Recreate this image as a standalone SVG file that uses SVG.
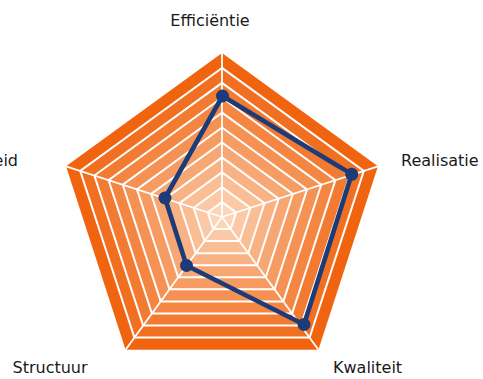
<svg xmlns="http://www.w3.org/2000/svg" width="483" height="379" viewBox="0 0 483 379">
<style>
.lbl{font-family:"DejaVu Sans","Liberation Sans",sans-serif;font-size:16px;fill:#1a1a1a}
.grid{fill:none;stroke:#ffffff;stroke-width:2}
.spoke{stroke:#ffffff;stroke-width:1.8}
.series{fill:none;stroke:#1c3b78;stroke-width:4.6;stroke-linejoin:round}
.pt{fill:#1c3b78}
</style>
<rect width="483" height="379" fill="#ffffff"/>
<g id="chart-bands">
<polygon fill="#F06410" points="222,53 377.97,166.32 318.40,349.68 125.60,349.68 66.03,166.32"/>
<polygon fill="#F16F21" points="222,67.91 363.80,170.93 309.63,337.62 134.37,337.62 80.20,170.93"/>
<polygon fill="#F27A31" points="222,82.82 349.62,175.54 300.87,325.56 143.13,325.56 94.38,175.54"/>
<polygon fill="#F48642" points="222,97.73 335.44,180.14 292.11,313.49 151.89,313.49 108.56,180.14"/>
<polygon fill="#F59152" points="222,112.64 321.26,184.75 283.34,301.43 160.66,301.43 122.74,184.75"/>
<polygon fill="#F69C63" points="222,127.55 307.08,189.36 274.58,289.37 169.42,289.37 136.92,189.36"/>
<polygon fill="#F7A774" points="222,142.45 292.90,193.96 265.82,277.31 178.18,277.31 151.10,193.96"/>
<polygon fill="#F8B284" points="222,157.36 278.72,198.57 257.05,265.25 186.95,265.25 165.28,198.57"/>
<polygon fill="#FABE95" points="222,172.27 264.54,203.18 248.29,253.19 195.71,253.19 179.46,203.18"/>
<polygon fill="#FBC9A5" points="222,187.18 250.36,207.79 239.53,241.12 204.47,241.12 193.64,207.79"/>
<polygon fill="#FCD4B6" points="222,202.09 236.18,212.39 230.76,229.06 213.24,229.06 207.82,212.39"/>
</g>
<g id="chart-grid">
<polygon class="grid" points="222,67.91 363.80,170.93 309.63,337.62 134.37,337.62 80.20,170.93"/>
<polygon class="grid" points="222,82.82 349.62,175.54 300.87,325.56 143.13,325.56 94.38,175.54"/>
<polygon class="grid" points="222,97.73 335.44,180.14 292.11,313.49 151.89,313.49 108.56,180.14"/>
<polygon class="grid" points="222,112.64 321.26,184.75 283.34,301.43 160.66,301.43 122.74,184.75"/>
<polygon class="grid" points="222,127.55 307.08,189.36 274.58,289.37 169.42,289.37 136.92,189.36"/>
<polygon class="grid" points="222,142.45 292.90,193.96 265.82,277.31 178.18,277.31 151.10,193.96"/>
<polygon class="grid" points="222,157.36 278.72,198.57 257.05,265.25 186.95,265.25 165.28,198.57"/>
<polygon class="grid" points="222,172.27 264.54,203.18 248.29,253.19 195.71,253.19 179.46,203.18"/>
<polygon class="grid" points="222,187.18 250.36,207.79 239.53,241.12 204.47,241.12 193.64,207.79"/>
<polygon class="grid" points="222,202.09 236.18,212.39 230.76,229.06 213.24,229.06 207.82,212.39"/>
<line class="spoke" x1="222" y1="217" x2="222" y2="53"/>
<line class="spoke" x1="222" y1="217" x2="377.97" y2="166.32"/>
<line class="spoke" x1="222" y1="217" x2="318.40" y2="349.68"/>
<line class="spoke" x1="222" y1="217" x2="125.60" y2="349.68"/>
<line class="spoke" x1="222" y1="217" x2="66.03" y2="166.32"/>
</g>
<g id="connectors">
<polygon class="series" points="222.5,96 351.7,174.3 304,324.5 186.5,265.5 165,198"/>
</g>
<g id="node-efficientie"><circle class="pt" cx="222.5" cy="96" r="6.5"/><text class="lbl" x="210" y="26" text-anchor="middle">Efficiëntie</text></g>
<g id="node-realisatie"><circle class="pt" cx="351.7" cy="174.3" r="6.5"/><text class="lbl" x="401" y="166">Realisatie</text></g>
<g id="node-kwaliteit"><circle class="pt" cx="304" cy="324.5" r="6.5"/><text class="lbl" x="333" y="373">Kwaliteit</text></g>
<g id="node-structuur"><circle class="pt" cx="186.5" cy="265.5" r="6.5"/><text class="lbl" x="12.5" y="373">Structuur</text></g>
<g id="node-left"><circle class="pt" cx="165" cy="198" r="6.5"/><text class="lbl" x="18" y="166" text-anchor="end">eid</text></g>
</svg>
